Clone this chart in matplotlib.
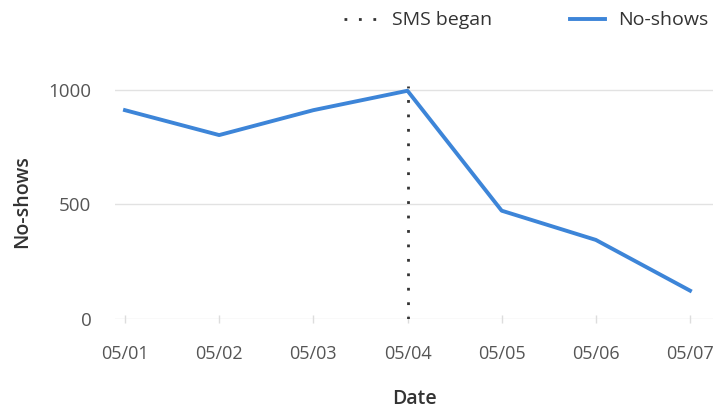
import matplotlib.pyplot as plt

# daily no-show counts
dates = ["05/01", "05/02", "05/03", "05/04", "05/05", "05/06", "05/07"]
no_shows = [912, 803, 912, 997, 472, 344, 122]
sms_start = "05/04"

plt.rcParams["font.family"] = ["Open Sans", "DejaVu Sans"]

fig = plt.figure(figsize=(7.17, 4.12), dpi=100)
ax = fig.add_axes([115 / 717, 1 - 318.5 / 412, 598 / 717, 233 / 412])

x = list(range(len(dates)))
ax.plot(x, no_shows, color="#3d85d8", lw=2.8, solid_joinstyle="round",
        label="No-shows", zorder=3)
ax.axvline(dates.index(sms_start), color="#333333", lw=2.0,
           linestyle=(0, (1, 4.2)), label="SMS began", zorder=4)

ax.set_xlim(-0.106, 6.244)
ax.set_ylim(0, 1020)
ax.set_yticks([0, 500, 1000])
ax.set_xticks(x)
ax.set_xticklabels(dates)

ax.grid(axis="y", color="#e2e2e2", lw=1)
ax.set_axisbelow(True)
for s in ax.spines.values():
    s.set_visible(False)
ax.tick_params(axis="y", length=0, pad=17, labelsize=13.5, labelcolor="#555555")
ax.tick_params(axis="x", length=6, width=1, color="#dddddd", direction="inout",
               pad=16, labelsize=13, labelcolor="#555555")

ax.set_xlabel("Date", fontsize=14, fontweight="semibold", color="#333333",
              labelpad=19)
ax.set_ylabel("No-shows", fontsize=14, fontweight="semibold", color="#333333",
              labelpad=12)

handles, labels = ax.get_legend_handles_labels()
order = [1, 0]
fig.legend([handles[i] for i in order], [labels[i] for i in order],
           loc="upper right", bbox_to_anchor=(1.012, 1.015), ncol=2, frameon=False,
           fontsize=14, labelcolor="#333333", handlelength=1.8,
           columnspacing=4.0, handletextpad=0.67)

fig.savefig("out.png", dpi=100)
